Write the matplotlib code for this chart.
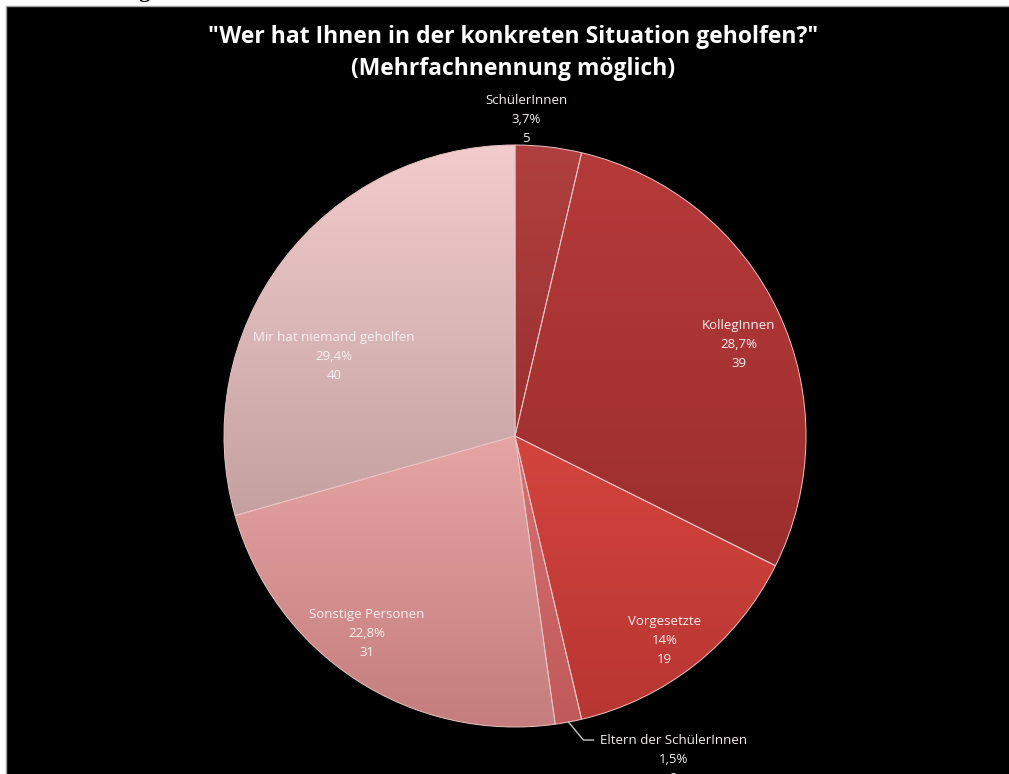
import numpy as np
import matplotlib
matplotlib.use("Agg")
import matplotlib.pyplot as plt
from matplotlib.colors import LinearSegmentedColormap
from matplotlib.patches import Rectangle

# data
categories = ["SchülerInnen", "KollegInnen", "Vorgesetzte",
              "Eltern der SchülerInnen", "Sonstige Personen", "Mir hat niemand geholfen"]
counts = [5, 39, 19, 2, 31, 40]
percent_labels = ["3,7%", "28,7%", "14%", "1,5%", "22,8%", "29,4%"]

title = '"Wer hat Ihnen in der konkreten Situation geholfen?"\n(Mehrfachnennung möglich)'

# slice shading (top colour, bottom colour)
shades = [
    ("#b04040", "#9a3030"),
    ("#b63a3a", "#9c2e2e"),
    ("#d4443e", "#b83632"),
    ("#d87070", "#c05a5a"),
    ("#e6a4a4", "#c47c7c"),
    ("#f2cccc", "#c4a0a0"),
]
# label placement: radius factor and angle shift (deg) relative to slice middle
label_r = [1.09, 0.83, 0.87, None, 0.85, 0.68]
label_shift = [4.6, -3.0, -2.2, 0.0, -3.8, 13.3]

W, H = 1009, 774
cx, cy, R = 515, H - 436, 291
txt = "#f6f0f0"
font = "Open Sans"

fig = plt.figure(figsize=(W / 100, H / 100), dpi=100)
ax = fig.add_axes([0, 0, 1, 1])

ax.add_patch(Rectangle((6, -5), W + 10, H - 6 + 5, facecolor="black",
                       edgecolor="#a0a0a0", linewidth=1, zorder=0))

wedges, _ = ax.pie(counts, startangle=90, counterclock=False, center=(cx, cy),
                   radius=R, colors=[s[1] for s in shades],
                   wedgeprops=dict(edgecolor="#e8c4c4", linewidth=0.7))

# vertical gradient inside every slice
for w, (top, bot) in zip(wedges, shades):
    v = w.get_path().vertices
    x0, x1 = v[:, 0].min(), v[:, 0].max()
    y0, y1 = v[:, 1].min(), v[:, 1].max()
    cmap = LinearSegmentedColormap.from_list("g", [bot, top])
    grad = np.linspace(0, 1, 256).reshape(-1, 1)
    im = ax.imshow(grad, cmap=cmap, extent=(x0, x1, y0, y1), origin="lower",
                   aspect="auto", interpolation="bilinear", zorder=w.get_zorder() + 0.1)
    im.set_clip_path(w)
    w.set_facecolor("none")
    w.set_zorder(w.get_zorder() + 0.2)

for i, w in enumerate(wedges):
    mid = (w.theta1 + w.theta2) / 2
    text = f"{categories[i]}\n{percent_labels[i]}\n{counts[i]}"
    if label_r[i] is None:
        a = np.deg2rad(mid)
        ex, ey = cx + R * np.cos(a), cy + R * np.sin(a)
        kx, ky = ex + 15, ey - 18
        ax.plot([ex, kx, kx + 10], [ey, ky, ky], color="#c8c8c8", lw=1, zorder=5)
        ax.text(kx + 90, ky + 6, text, ha="center", va="top", color=txt,
                fontsize=9.5, family=font, linespacing=1.6, zorder=6)
        continue
    a = np.deg2rad(mid + label_shift[i])
    ax.text(cx + label_r[i] * R * np.cos(a), cy + label_r[i] * R * np.sin(a), text,
            ha="center", va="center", color=txt, fontsize=9.5, family=font,
            linespacing=1.6, zorder=6)

ax.text(513, H - 53, title, ha="center", va="center", color="white",
        fontsize=16.5, fontweight="bold", family=font, linespacing=1.4, zorder=6)

# cut-off heading letter above the chart frame
ax.text(144, H + 3, "g", ha="center", va="baseline", color="black",
        fontsize=16, fontweight="bold", family="Liberation Serif", clip_on=False)

ax.set_xlim(0, W)
ax.set_ylim(0, H)
ax.set_aspect("auto")
ax.axis("off")

fig.savefig("out.png", dpi=100, facecolor="white")
